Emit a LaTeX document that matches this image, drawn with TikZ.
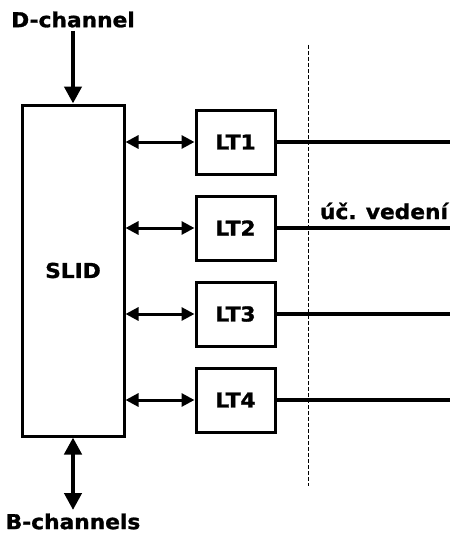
\documentclass[tikz,border=0pt]{standalone}
\usepackage{fontspec}
\setmainfont{DejaVu Sans}[FakeStretch=1.06,BoldFeatures={FakeBold=1.3}]
\usetikzlibrary{arrows.meta}
\begin{document}
\begin{tikzpicture}[x=1pt,y=-1pt,
  blk/.style={draw,line width=3pt,inner sep=0pt},
  lab/.style={font=\fontsize{20.5}{24}\selectfont\bfseries},
  arr/.style={line width=4.5pt,-{Triangle[length=17pt,width=17pt]}},
  darr/.style={line width=3pt,{Triangle[length=13pt,width=13pt]}-{Triangle[length=13pt,width=13pt]}},
  barr/.style={line width=4.5pt,{Triangle[length=17pt,width=17pt]}-{Triangle[length=17pt,width=17pt]}},
  line/.style={line width=4.5pt}]
\useasboundingbox (0,0) rectangle (450,535);
\node[blk,minimum width=102pt,minimum height=331pt] (slid) at (73,270.5) {};
\node[lab] at (slid.center) {SLID};
\foreach \i/\y in {1/142,2/228,3/314,4/400}{
  \node[blk,minimum width=79pt,minimum height=64pt] (lt\i) at (235.5,\y) {};
  \node[lab] at (lt\i.center) {LT\i};
  \coordinate (s\i) at (slid.east |- lt\i.west);
  \coordinate (e\i) at (450,\y);
  \draw[darr] (s\i) -- (lt\i.west);
  \draw[line] (lt\i.east) -- (e\i);
}
\node[lab,anchor=south] (dch) at (73,31) {D-channel};
\draw[arr] (dch.south) -- (slid.north);
\node[lab,anchor=north] (bch) at (73,510) {B-channels};
\draw[barr] (slid.south) -- (bch.north);
\coordinate (dt) at (308,45);
\coordinate (db) at (308,486);
\draw[line width=1pt,dash pattern=on 4pt off 2pt] (dt) -- (db);
\node[lab,anchor=center] (uc) at (384,211) {úč.\hspace{0.45em}vedení};
\end{tikzpicture}
\end{document}
